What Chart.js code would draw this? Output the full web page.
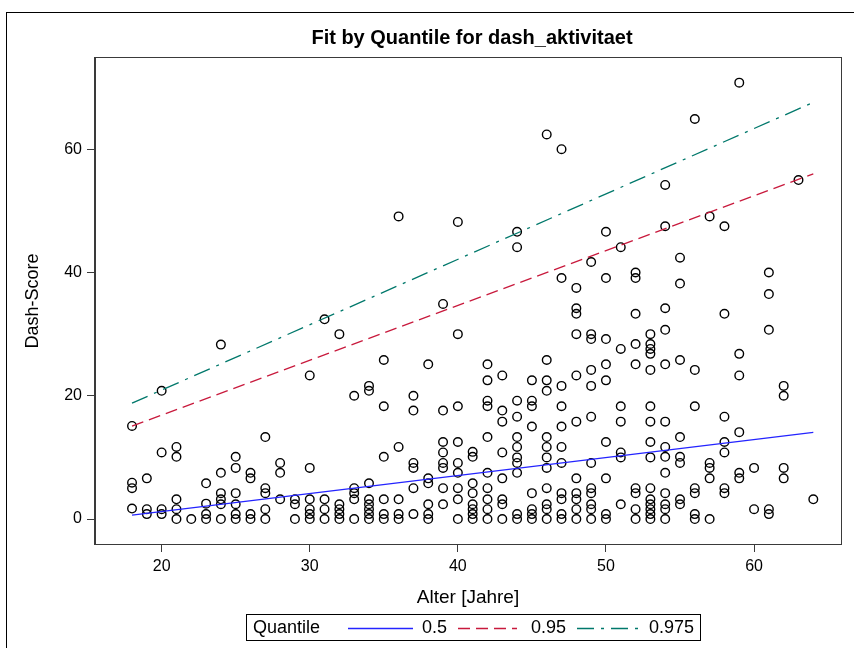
<!DOCTYPE html>
<html>
<head>
<meta charset="utf-8">
<title>Fit by Quantile for dash_aktivitaet</title>
<script src="https://cdn.jsdelivr.net/npm/chart.js@4.4.1/dist/chart.umd.min.js"></script>
<style>
    body { margin: 0; background: #fff; }
    #grafico { display: block; }
</style>
</head>
<body>
<canvas id="grafico" width="854" height="648"></canvas>
<script>
// Alter (Jahre) und die Dash-Scores, eine Zeile pro Alter
const alterJahre = [18, 19, 20, 21, 22, 23, 24, 25, 26, 27, 28, 29, 30, 31, 32, 33, 34, 35, 36, 37, 38, 39, 40,
    41, 42, 43, 44, 45, 46, 47, 48, 49, 50, 51, 52, 53, 54, 55, 56, 57, 58, 59, 60, 61, 62, 63, 64];
const dashWerte = [
    [15.1, 5.9, 5.0, 1.7],                                   // 18
    [6.6, 1.6, 0.8],                                         // 19
    [20.8, 10.8, 1.6, 0.8],                                  // 20
    [11.7, 10.1, 3.2, 1.6, 0],                               // 21
    [0],                                                     // 22
    [5.8, 2.5, 0.8, 0],                                      // 23
    [28.3, 7.5, 4.2, 3.2, 2.4, 0],                           // 24
    [10.1, 8.3, 4.2, 2.4, 0.8, 0],                           // 25
    [7.5, 6.6, 0.8, 0],                                      // 26
    [13.3, 5.0, 4.2, 1.6, 0],                                // 27
    [9.1, 7.5, 3.2],                                         // 28
    [3.2, 2.4, 0],                                           // 29
    [23.3, 8.3, 3.2, 1.6, 0.8, 0],                           // 30
    [32.4, 3.2, 1.6, 0],                                     // 31
    [30.0, 2.4, 1.6, 0.8, 0],                                // 32
    [20.0, 5.0, 4.2, 3.2, 0],                                // 33
    [21.6, 20.8, 5.8, 3.2, 2.4, 1.6, 0.8, 0],                // 34
    [25.8, 18.3, 10.1, 3.2, 0.8, 0],                         // 35
    [49.1, 11.7, 3.2, 0.8, 0],                               // 36
    [20.0, 17.6, 9.1, 8.3, 5.0, 0.8],                        // 37
    [25.1, 6.6, 5.8, 2.4, 0.8, 0],                           // 38
    [34.9, 17.6, 12.5, 10.8, 9.1, 8.3, 5.0, 2.4],            // 39
    [48.2, 30.0, 18.3, 12.5, 9.1, 7.5, 5.0, 3.2, 0],         // 40
    [10.9, 10.1, 5.8, 4.2, 2.4, 1.6, 0.8, 0],                // 41
    [25.1, 22.5, 19.2, 18.3, 13.3, 7.5, 5.0, 3.2, 1.6, 0],   // 42
    [23.3, 17.6, 15.8, 10.8, 6.6, 3.2, 2.4, 0],              // 43
    [46.6, 44.1, 19.2, 16.6, 13.3, 11.7, 10.0, 9.1, 7.5, 0.8, 0],          // 44
    [22.5, 19.2, 18.3, 15.0, 4.2, 1.6, 0.8, 0],                            // 45
    [62.4, 25.8, 22.5, 20.8, 13.3, 11.7, 10.0, 8.3, 5.0, 2.4, 1.6, 0],     // 46
    [60.0, 39.1, 21.6, 18.3, 15.0, 11.7, 9.1, 4.2, 3.2, 0.8, 0],           // 47
    [37.5, 34.2, 33.3, 30.0, 23.3, 15.8, 6.6, 4.2, 3.2, 1.6, 0],           // 48
    [41.7, 30.0, 29.2, 24.2, 21.6, 16.6, 9.1, 5.0, 4.2, 2.4, 1.6, 0],      // 49
    [46.6, 39.1, 29.2, 25.1, 22.5, 12.5, 6.6, 0.8, 0],                     // 50
    [44.1, 27.6, 18.3, 15.8, 10.8, 10.0, 2.4],                             // 51
    [40.0, 39.1, 33.3, 28.4, 25.1, 5.0, 4.2, 1.6, 0],                      // 52
    [30.0, 28.4, 27.6, 26.8, 24.2, 18.3, 15.8, 12.5, 10.0, 5.0, 3.2, 2.4, 1.6, 0.8, 0], // 53
    [54.2, 47.5, 34.2, 30.7, 25.1, 15.8, 11.7, 10.1, 7.5, 4.2, 2.4, 1.6, 0],            // 54
    [42.4, 38.2, 25.8, 13.3, 10.1, 9.1, 3.2, 2.4],           // 55
    [64.9, 24.2, 18.3, 5.0, 4.2, 0.8, 0],                    // 56
    [49.1, 9.1, 8.3, 6.6, 0],                                // 57
    [47.5, 33.3, 16.6, 12.5, 10.8, 5.0, 4.2],                // 58
    [70.8, 26.8, 23.3, 14.1, 7.5, 6.6],                      // 59
    [8.3, 1.6],                                              // 60
    [40.0, 36.5, 30.7, 1.6, 0.8],                            // 61
    [21.6, 20.0, 8.3, 6.6],                                  // 62
    [55.0],                                                  // 63
    [3.2]                                                    // 64
];

// Quantilsregression: Werte am Anfang und Ende (Alter 18 und 64)
const fitAlter = [18, 64];
const quantil50 = [0.65, 14.06];
const quantil95 = [15.08, 56.0];
const quantil975 = [18.8, 67.6];

const xTicks = [20, 30, 40, 50, 60];
const yTicks = [0, 20, 40, 60];

const schrift = '"Liberation Sans", Arial, sans-serif';
const farbeBlau = '#2424ff';
const farbeRot = '#c8193c';
const farbeGruen = '#00786b';
const strichRot = [12, 6];
const strichGruen = [17, 7, 3, 7];

function alsPunkte(xs, ys) {
    return xs.map((x, i) => ({ x: x, y: ys[i] }));
}

const punkte = [];
alterJahre.forEach((alter, i) => {
    dashWerte[i].forEach(wert => punkte.push({ x: alter, y: wert }));
});

// Rahmen, Titel und Legende werden selbst gezeichnet
const rahmenPlugin = {
    id: 'rahmen',
    afterDraw(chart) {
        const ctx = chart.ctx;
        const a = chart.chartArea;
        ctx.save();
        ctx.lineWidth = 1;
        ctx.strokeStyle = '#000';
        ctx.strokeRect(6.5, 12.5, 860, 660);
        ctx.strokeStyle = '#3a3a3a';
        ctx.strokeRect(Math.round(a.left) - 0.5, Math.round(a.top) - 0.5, a.right - a.left + 1, a.bottom - a.top + 1);

        ctx.fillStyle = '#000';
        ctx.font = 'bold 20px ' + schrift;
        ctx.textAlign = 'center';
        ctx.textBaseline = 'middle';
        ctx.fillText('Fit by Quantile for dash_aktivitaet', 472, 38);

        // Legende
        const ly = 628;
        ctx.strokeStyle = '#000';
        ctx.strokeRect(246.5, 614.5, 454, 26);
        ctx.font = '18px ' + schrift;
        ctx.textAlign = 'left';
        ctx.fillText('Quantile', 253, ly);
        const eintraege = [
            { farbe: farbeBlau, strich: [], x1: 348, x2: 413, text: '0.5', tx: 422 },
            { farbe: farbeRot, strich: strichRot, x1: 458, x2: 517, text: '0.95', tx: 531 },
            { farbe: farbeGruen, strich: strichGruen, x1: 577, x2: 640, text: '0.975', tx: 649 }
        ];
        eintraege.forEach(e => {
            ctx.beginPath();
            ctx.setLineDash(e.strich);
            ctx.strokeStyle = e.farbe;
            ctx.lineWidth = 1.3;
            ctx.moveTo(e.x1, ly + 0.5);
            ctx.lineTo(e.x2, ly + 0.5);
            ctx.stroke();
            ctx.setLineDash([]);
            ctx.fillText(e.text, e.tx, ly);
        });
        ctx.restore();
    }
};

function linie(label, daten, farbe, strich) {
    return {
        type: 'line',
        label: label,
        data: alsPunkte(fitAlter, daten),
        borderColor: farbe,
        borderWidth: 1.3,
        borderDash: strich,
        pointRadius: 0,
        fill: false,
        tension: 0
    };
}

const ctx = document.getElementById('grafico').getContext('2d');
new Chart(ctx, {
    type: 'scatter',
    data: {
        datasets: [
            linie('0.5', quantil50, farbeBlau, []),
            linie('0.95', quantil95, farbeRot, strichRot),
            linie('0.975', quantil975, farbeGruen, strichGruen),
            {
                label: 'dash_aktivitaet',
                data: punkte,
                pointStyle: 'circle',
                pointRadius: 4.3,
                pointBorderWidth: 1.4,
                borderColor: '#000',
                backgroundColor: 'rgba(0,0,0,0)',
                pointHoverRadius: 4.3
            }
        ]
    },
    options: {
        responsive: false,
        animation: false,
        layout: { padding: { left: 0, top: 58, right: 13, bottom: 0 } },
        plugins: {
            legend: { display: false },
            title: { display: false },
            tooltip: { enabled: false }
        },
        scales: {
            x: {
                type: 'linear',
                min: 15.5,
                max: 65.87,
                afterFit: s => { s.height = 104; },
                afterBuildTicks: s => { s.ticks = xTicks.map(v => ({ value: v })); },
                grid: { drawOnChartArea: false, drawTicks: true, tickLength: 8, color: '#3a3a3a' },
                border: { display: true, color: '#3a3a3a', width: 1 },
                ticks: { color: '#000', font: { family: schrift, size: 16 }, padding: 5, maxRotation: 0 },
                title: { display: true, text: 'Alter [Jahre]', color: '#000', font: { family: schrift, size: 19 }, padding: { bottom: 39 } }
            },
            y: {
                type: 'linear',
                min: -4.05,
                max: 74.8,
                afterFit: s => { s.width = 95; },
                afterBuildTicks: s => { s.ticks = yTicks.map(v => ({ value: v })); },
                grid: { drawOnChartArea: false, drawTicks: true, tickLength: 8, color: '#3a3a3a' },
                border: { display: true, color: '#3a3a3a', width: 1 },
                ticks: { color: '#000', font: { family: schrift, size: 16 }, padding: 5 },
                title: { display: true, text: 'Dash-Score', color: '#000', font: { family: schrift, size: 18 }, padding: { top: 22 } }
            }
        }
    },
    plugins: [rahmenPlugin]
});
</script>
</body>
</html>
